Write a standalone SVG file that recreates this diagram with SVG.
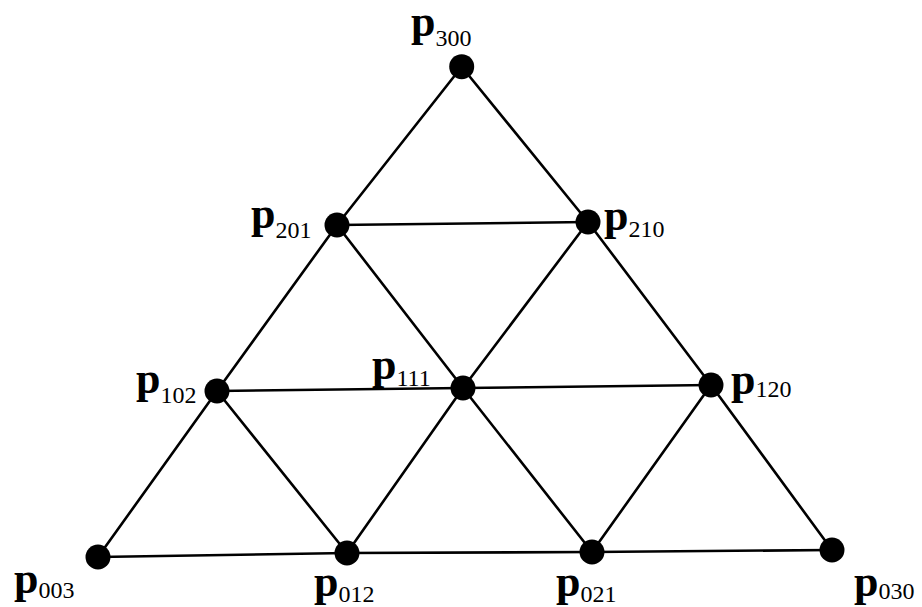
<svg xmlns="http://www.w3.org/2000/svg" width="922" height="607" viewBox="0 0 922 607">
<style>
.e{stroke:#000;stroke-width:2.6;fill:none;stroke-linecap:round}
.n{fill:#000}
.l{font-family:"Liberation Serif","Times New Roman",serif;fill:#000}
.p{font-weight:bold;font-size:44px}
.s{font-size:24px}
</style>
<rect width="922" height="607" fill="#fff"/>
<g id="connectors">
<line class="e" x1="461.7" y1="66.7" x2="337" y2="225"/>
<line class="e" x1="337" y1="225" x2="217" y2="391"/>
<line class="e" x1="217" y1="391" x2="98" y2="557"/>
<line class="e" x1="461.7" y1="66.7" x2="588" y2="222"/>
<line class="e" x1="588" y1="222" x2="711" y2="385"/>
<line class="e" x1="711" y1="385" x2="832" y2="550"/>
<line class="e" x1="98" y1="557" x2="347" y2="553"/>
<line class="e" x1="347" y1="553" x2="592" y2="552"/>
<line class="e" x1="592" y1="552" x2="832" y2="550"/>
<line class="e" x1="337" y1="225" x2="588" y2="222"/>
<line class="e" x1="217" y1="391" x2="463" y2="388"/>
<line class="e" x1="463" y1="388" x2="711" y2="385"/>
<line class="e" x1="337" y1="225" x2="463" y2="388"/>
<line class="e" x1="463" y1="388" x2="592" y2="552"/>
<line class="e" x1="588" y1="222" x2="463" y2="388"/>
<line class="e" x1="463" y1="388" x2="347" y2="553"/>
<line class="e" x1="217" y1="391" x2="347" y2="553"/>
<line class="e" x1="711" y1="385" x2="592" y2="552"/>
</g>
<g id="p300"><circle class="n" cx="461.7" cy="66.7" r="12.5"/><text class="l" x="411" y="36"><tspan class="p">p</tspan><tspan class="s" dy="10">300</tspan></text></g>
<g id="p201"><circle class="n" cx="337" cy="225" r="12.5"/><text class="l" x="251" y="228"><tspan class="p">p</tspan><tspan class="s" dy="10">201</tspan></text></g>
<g id="p210"><circle class="n" cx="588" cy="222" r="12.5"/><text class="l" x="604" y="230"><tspan class="p">p</tspan><tspan class="s" dy="7">210</tspan></text></g>
<g id="p102"><circle class="n" cx="217" cy="391" r="12.5"/><text class="l" x="136" y="393"><tspan class="p">p</tspan><tspan class="s" dy="10">102</tspan></text></g>
<g id="p111"><circle class="n" cx="463" cy="388" r="12.5"/><text class="l" x="372" y="379"><tspan class="p">p</tspan><tspan class="s" dy="7">111</tspan></text></g>
<g id="p120"><circle class="n" cx="711" cy="385" r="12.5"/><text class="l" x="731" y="394"><tspan class="p">p</tspan><tspan class="s" dy="3">120</tspan></text></g>
<g id="p003"><circle class="n" cx="98" cy="557" r="12.5"/><text class="l" x="14" y="593"><tspan class="p">p</tspan><tspan class="s" dy="5">003</tspan></text></g>
<g id="p012"><circle class="n" cx="347" cy="553" r="12.5"/><text class="l" x="314" y="596"><tspan class="p">p</tspan><tspan class="s" dy="6">012</tspan></text></g>
<g id="p021"><circle class="n" cx="592" cy="552" r="12.5"/><text class="l" x="556" y="596"><tspan class="p">p</tspan><tspan class="s" dy="6">021</tspan></text></g>
<g id="p030"><circle class="n" cx="832" cy="550" r="12.5"/><text class="l" x="854" y="596"><tspan class="p">p</tspan><tspan class="s" dy="3">030</tspan></text></g>
</svg>
